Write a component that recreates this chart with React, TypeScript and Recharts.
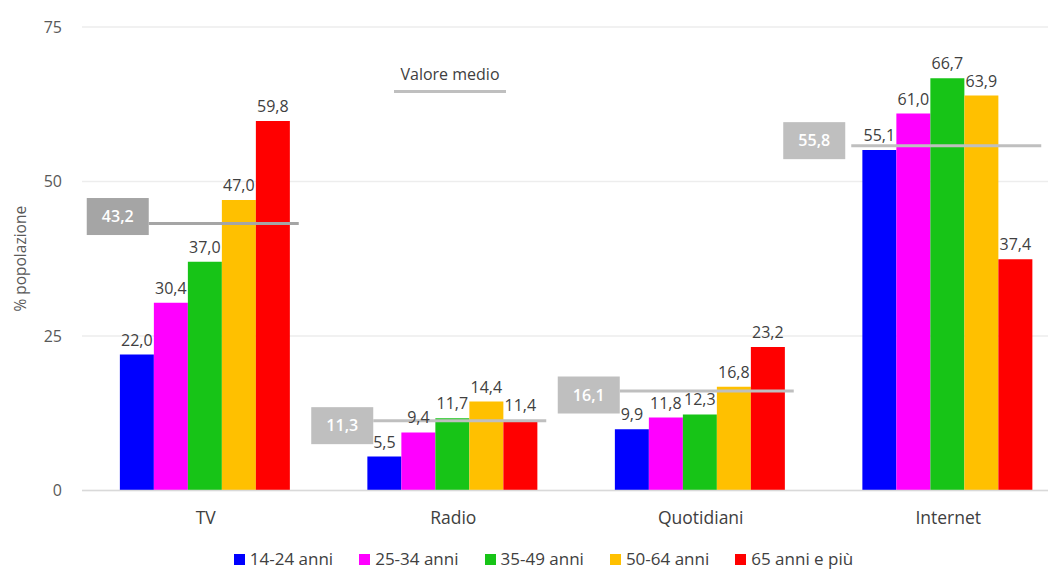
import React from "react"
import { ComposedChart, Bar, Line, XAxis, YAxis, CartesianGrid, Legend, LabelList } from "recharts"

// categories and values
const categories = ["TV", "Radio", "Quotidiani", "Internet"]
const anni1424 = [22.0, 5.5, 9.9, 55.1]
const anni2534 = [30.4, 9.4, 11.8, 61.0]
const anni3549 = [37.0, 11.7, 12.3, 66.7]
const anni5064 = [47.0, 14.4, 16.8, 63.9]
const anni65 = [59.8, 11.4, 23.2, 37.4]
const valoreMedio = [43.2, 11.3, 16.1, 55.8]
const yTicks = [0, 25, 50, 75]

const series = [
  { key: "a1424", name: "14-24 anni", color: "#0000ff", values: anni1424 },
  { key: "a2534", name: "25-34 anni", color: "#ff00ff", values: anni2534 },
  { key: "a3549", name: "35-49 anni", color: "#17c417", values: anni3549 },
  { key: "a5064", name: "50-64 anni", color: "#ffc000", values: anni5064 },
  { key: "a65", name: "65 anni e più", color: "#ff0000", values: anni65 },
]

const data = categories.map((cat, i) => {
  const row: any = { cat, avg: valoreMedio[i] }
  series.forEach((s) => (row[s.key] = s.values[i]))
  return row
})

const FONT = "'Open Sans', sans-serif"
const fmt = (v: any) => Number(v).toFixed(1).replace(".", ",")

// where Excel put each average box, relative to the category centre
const avgBox: Record<string, { dx: number; dy: number; gap: number; fill: string }> = {
  TV: { dx: -119, dy: -7, gap: 0, fill: "#a5a5a5" },
  Radio: { dx: -142, dy: 5, gap: 0, fill: "#bfbfbf" },
  Quotidiani: { dx: -143, dy: 4, gap: 0, fill: "#bfbfbf" },
  Internet: { dx: -165, dy: -5, gap: 6, fill: "#bfbfbf" },
}

const renderAvg = (props: any) => {
  const { cx, cy, payload, index } = props
  if (cx == null || cy == null) return <g key={index} />
  const st = avgBox[payload.cat]
  const bx = cx + st.dx
  const by = cy + st.dy - 18.5
  return (
    <g key={`avg-${index}`}>
      <line x1={bx + 62 + st.gap} x2={cx + 93} y1={cy} y2={cy} stroke={st.fill} strokeWidth={3} />
      <rect x={bx} y={by} width={62} height={37} fill={st.fill} />
      <text
        x={bx + 31}
        y={by + 18.5}
        dy="0.35em"
        textAnchor="middle"
        fill="#ffffff"
        fontSize={16}
        fontWeight={600}
        fontFamily={FONT}
      >
        {fmt(payload.avg)}
      </text>
    </g>
  )
}

const renderLegend = (props: any) => {
  const items = (props.payload || []).filter((p: any) => p.type !== "none")
  return (
    <div style={{ display: "flex", justifyContent: "center", paddingLeft: 57, height: 20, alignItems: "center" }}>
      {items.map((p: any) => (
        <div key={p.value} style={{ display: "flex", alignItems: "center", marginRight: 26 }}>
          <div style={{ width: 11, height: 11, background: p.color, marginRight: 5 }} />
          <div
            style={{
              fontFamily: FONT,
              fontSize: 17,
              lineHeight: "20px",
              height: 20,
              color: "#404040",
              whiteSpace: "nowrap",
            }}
          >
            {p.value}
          </div>
        </div>
      ))}
    </div>
  )
}

export default function App() {
  return (
    <div style={{ position: "relative", width: 1056, height: 569, overflow: "hidden", margin: "-8px 0 0 -8px" }}>
      <ComposedChart
        width={1072}
        height={569}
        data={data}
        margin={{ top: 27, right: 0, left: 0, bottom: 0 }}
        barCategoryGap="15.3%"
        barGap={0}
      >
        <CartesianGrid vertical={false} stroke="#ededed" strokeWidth={1.5} />
        <XAxis
          dataKey="cat"
          height={58.5}
          tickLine={false}
          axisLine={{ stroke: "#d9d9d9", strokeWidth: 1.5 }}
          tickMargin={15}
          tick={{ fill: "#404040", fontSize: 17.5, fontFamily: FONT }}
        />
        <YAxis
          width={82}
          domain={[0, 75]}
          ticks={yTicks}
          axisLine={false}
          tickLine={false}
          tickMargin={14}
          tick={{ fill: "#595959", fontSize: 16, fontFamily: FONT }}
          label={{
            value: "% popolazione",
            angle: -90,
            position: "center",
            dx: -21,
            fill: "#595959",
            fontSize: 15.5,
            fontFamily: FONT,
          }}
        />
        <Legend verticalAlign="bottom" content={renderLegend} wrapperStyle={{ bottom: 0, left: 0, width: 1056 }} />
        {series.map((s) => (
          <Bar key={s.key} dataKey={s.key} name={s.name} fill={s.color} isAnimationActive={false}>
            <LabelList
              dataKey={s.key}
              position="top"
              offset={9}
              formatter={fmt}
              style={{ fill: "#404040", fontSize: 16, fontFamily: FONT }}
            />
          </Bar>
        ))}
        <Line
          dataKey="avg"
          stroke="none"
          legendType="none"
          dot={renderAvg}
          activeDot={false}
          isAnimationActive={false}
        />
      </ComposedChart>
      <div
        style={{
          position: "absolute",
          left: 394,
          top: 63,
          width: 112,
          textAlign: "center",
          fontFamily: FONT,
          fontSize: 16,
          color: "#404040",
        }}
      >
        Valore medio
        <div style={{ height: 3, background: "#bfbfbf", marginTop: 5 }} />
      </div>
    </div>
  )
}
